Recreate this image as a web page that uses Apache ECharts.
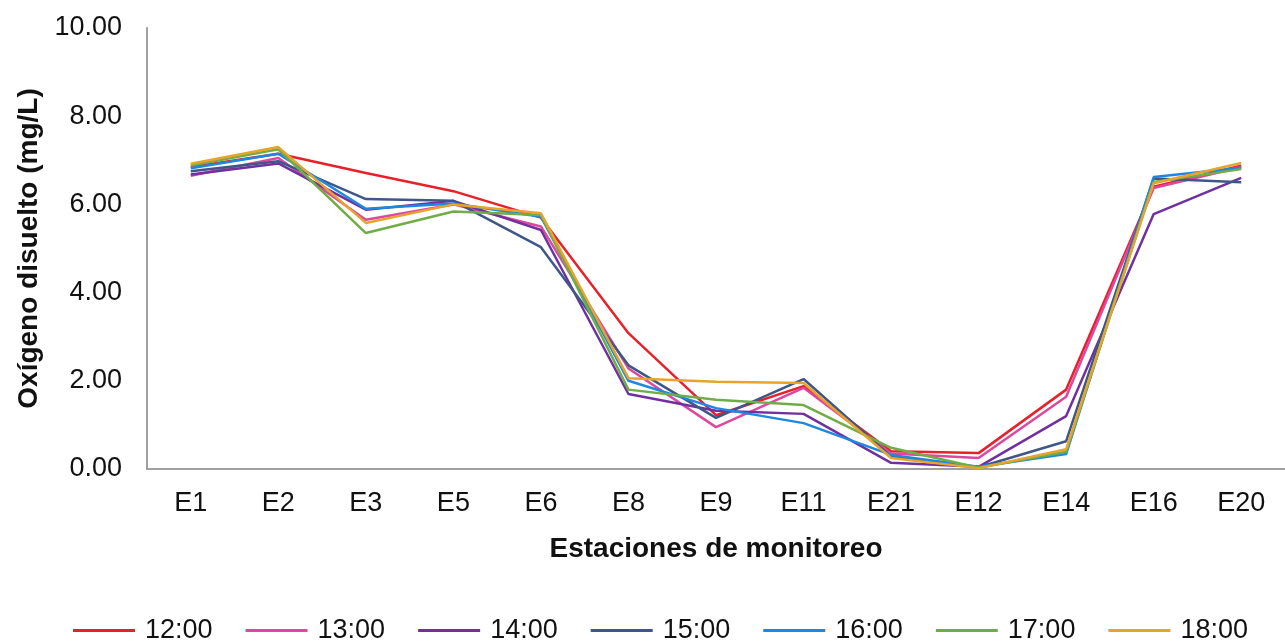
<!DOCTYPE html>
<html>
<head>
<meta charset="utf-8">
<script src="https://cdn.jsdelivr.net/npm/echarts@6/dist/echarts.min.js"></script>
<style>
  html, body { margin: 0; padding: 0; background: #fff; }
  #chart { width: 1285px; height: 641px; }
</style>
</head>
<body>
<div id="chart"></div>
<script>
  var estaciones = ["E1", "E2", "E3", "E5", "E6", "E8", "E9", "E11", "E21", "E12", "E14", "E16", "E20"];
  var horas = ["12:00", "13:00", "14:00", "15:00", "16:00", "17:00", "18:00"];
  var colores = ["#e8202a", "#dc48a0", "#7030a0", "#3e5688", "#1e88e0", "#70ad47", "#e8a42a"];

  var h1200 = [6.85, 7.15, 6.71, 6.30, 5.70, 3.08, 1.22, 1.88, 0.40, 0.36, 1.80, 6.40, 6.88];
  var h1300 = [6.65, 7.05, 5.65, 6.00, 5.50, 2.28, 0.95, 1.84, 0.35, 0.25, 1.64, 6.37, 6.85];
  var h1400 = [6.68, 6.93, 5.88, 6.08, 5.42, 1.70, 1.32, 1.25, 0.14, 0.05, 1.20, 5.78, 6.60];
  var h1500 = [6.75, 6.98, 6.12, 6.08, 5.03, 2.35, 1.16, 2.04, 0.28, 0.04, 0.63, 6.59, 6.50];
  var h1600 = [6.82, 7.15, 5.90, 6.02, 5.72, 2.00, 1.38, 1.04, 0.32, 0.05, 0.34, 6.62, 6.83];
  var h1700 = [6.88, 7.25, 5.35, 5.84, 5.76, 1.80, 1.57, 1.45, 0.48, 0.03, 0.39, 6.51, 6.80];
  var h1800 = [6.92, 7.30, 5.58, 6.00, 5.80, 2.06, 1.98, 1.95, 0.25, 0.02, 0.45, 6.48, 6.94];
  var datos = [h1200, h1300, h1400, h1500, h1600, h1700, h1800];

  var fuente = "Liberation Sans, Arial, sans-serif";
  var chart = echarts.init(document.getElementById("chart"));

  var series = [];
  for (var i = 0; i < horas.length; i++) {
    series.push({
      name: horas[i],
      type: "line",
      data: datos[i],
      symbol: "none",
      lineStyle: { width: 2.5, color: colores[i] },
      itemStyle: { color: colores[i] }
    });
  }

  chart.setOption({
    animation: false,
    textStyle: { fontFamily: fuente },
    grid: { left: 147, right: -12, top: 28, bottom: 172, containLabel: false },
    legend: {
      top: 612,
      left: 68,
      itemWidth: 62,
      itemHeight: 3,
      itemGap: 33,
      icon: "rect",
      textStyle: { fontSize: 27, color: "#111", fontFamily: fuente, padding: [0, 0, 0, 5] }
    },
    xAxis: {
      type: "category",
      data: estaciones,
      boundaryGap: true,
      name: "Estaciones de monitoreo",
      nameLocation: "middle",
      nameGap: 66,
      nameTextStyle: { fontSize: 28, fontWeight: "bold", color: "#111" },
      axisLine: { lineStyle: { color: "#a0a0a0", width: 2 } },
      axisTick: { show: false },
      axisLabel: { fontSize: 27, color: "#111", margin: 21 }
    },
    yAxis: {
      type: "value",
      min: 0,
      max: 10,
      interval: 2,
      name: "Oxígeno disuelto (mg/L)",
      nameLocation: "middle",
      nameGap: 104,
      nameTextStyle: { fontSize: 28, fontWeight: "bold", color: "#111" },
      axisLine: { show: true, lineStyle: { color: "#a0a0a0", width: 2 } },
      axisTick: { show: false },
      splitLine: { show: false },
      axisLabel: {
        fontSize: 27, color: "#111", margin: 25,
        formatter: function (v) { return v.toFixed(2); }
      }
    },
    series: series
  });
</script>
</body>
</html>
